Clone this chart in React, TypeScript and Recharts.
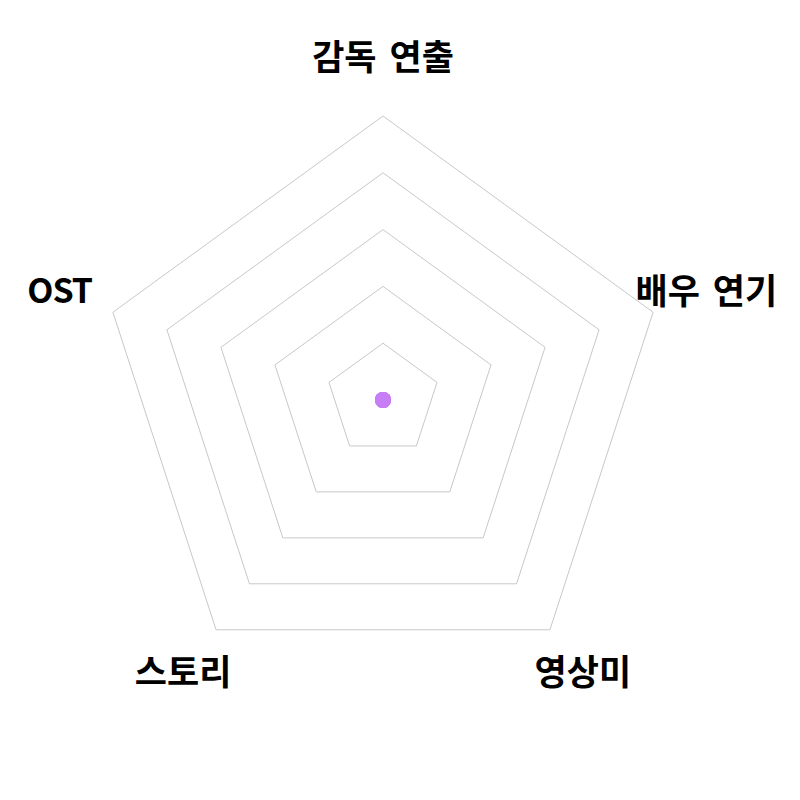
import React from "react";
import { RadarChart, PolarGrid, PolarAngleAxis, PolarRadiusAxis, Radar } from "recharts";

const categories = ["감독 연출", "배우 연기", "영상미", "스토리", "OST"];
const scores = [0, 0, 0, 0, 0];

const data = categories.map((c, i) => ({ subject: c, score: scores[i] }));

const CX = 375;
const CY = 392;
const LABEL_R = 340;

const Tick = (props: any) => {
  const { x, y, payload } = props;
  const dx = x - CX;
  const dy = y - CY;
  const len = Math.sqrt(dx * dx + dy * dy) || 1;
  const tx = CX + (dx / len) * LABEL_R;
  const ty = CY + (dy / len) * LABEL_R - 6;
  const latin = /^[\x00-\x7F]+$/.test(String(payload.value));
  return (
    <text
      x={tx}
      y={ty}
      textAnchor="middle"
      dominantBaseline="central"
      fontFamily="'Noto Sans CJK KR', 'Noto Sans', sans-serif"
      fontWeight={700}
      fontSize={latin ? 34 : 35}
      letterSpacing={latin ? -1 : 0}
      wordSpacing={5}
      fill="#000"
    >
      {payload.value}
    </text>
  );
};

export default function App() {
  return (
    <RadarChart
      width={784}
      height={784}
      cx={CX}
      cy={CY}
      outerRadius={284}
      data={data}
      margin={{ top: 0, right: 0, bottom: 0, left: 0 }}
    >
      <PolarGrid gridType="polygon" radialLines={false} stroke="#c8c8c8" />
      <PolarAngleAxis dataKey="subject" tick={<Tick />} tickLine={false} axisLine={false} />
      <PolarRadiusAxis domain={[0, 5]} tickCount={6} tick={false} axisLine={false} />
      <Radar
        dataKey="score"
        stroke="#c77df5"
        fill="#c77df5"
        fillOpacity={0.3}
        dot={{ r: 8, fill: "#c77df5", stroke: "none", fillOpacity: 1 }}
        isAnimationActive={false}
      />
    </RadarChart>
  );
}
